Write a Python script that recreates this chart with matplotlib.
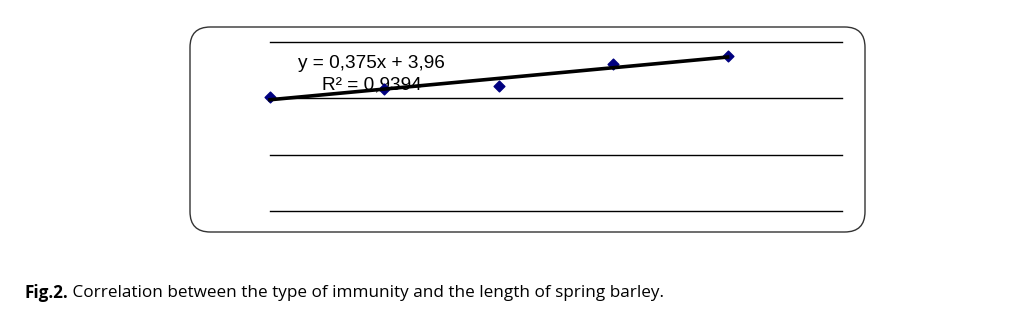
import numpy as np
import matplotlib.pyplot as plt
from matplotlib.patches import FancyBboxPatch

# Values.
x = [0, 1, 2, 3, 4]
y = [4.05, 4.33, 4.44, 5.22, 5.50]
grid_levels = [0, 2, 4, 6]
eq_text = "y = 0,375x + 3,96"
r2_text = "R² = 0,9394"
caption_bold = "Fig.2."
caption_rest = " Correlation between the type of immunity and the length of spring barley."

W, H = 1016, 311
fig = plt.figure(figsize=(W / 100, H / 100), dpi=100)

# rounded frame round the chart
box = FancyBboxPatch((190 / W, 1 - 232 / H), 675 / W, 205 / H,
                     boxstyle="round,pad=0,rounding_size=0.02",
                     transform=fig.transFigure, facecolor="white",
                     edgecolor="#333333", linewidth=1.0, mutation_aspect=W / H,
                     zorder=-5)
fig.patches.append(box)

ax = fig.add_axes([270 / W, 1 - 211 / H, 572 / W, 169 / H])
ax.set_zorder(5)
ax.set_xlim(0, 5)
ax.set_ylim(0, 6)
ax.patch.set_alpha(0)
for s in ax.spines.values():
    s.set_visible(False)
ax.set_xticks([])
ax.set_yticks([])
for g in grid_levels:
    ax.axhline(g, color="black", linewidth=1.0, zorder=1, clip_on=False)

ax.scatter(x, y, marker="D", s=30, color="#000080", zorder=3, clip_on=False)
k, b = np.polyfit(x, y, 1)
xs = np.array([min(x), max(x)])
ax.plot(xs, k * xs + b, color="black", linewidth=2.6, zorder=4, clip_on=False)

ax.text(0.049, 0.870, eq_text, transform=ax.transAxes, ha="left", va="center",
        fontsize=13.7, family="Liberation Sans", zorder=5)
ax.text(0.091, 0.745, r2_text, transform=ax.transAxes, ha="left", va="center",
        fontsize=13.7, family="Liberation Sans", zorder=2)

t = fig.text(24 / W, 1 - 293 / H, caption_bold, fontsize=12.3, fontweight="bold",
             family="Open Sans", va="center", ha="left")
fig.canvas.draw()
bb = t.get_window_extent()
fig.text(bb.x1 / W, 1 - 293 / H, caption_rest, fontsize=12.3,
         family="Open Sans", va="center", ha="left")

fig.savefig("out.png", dpi=100)
